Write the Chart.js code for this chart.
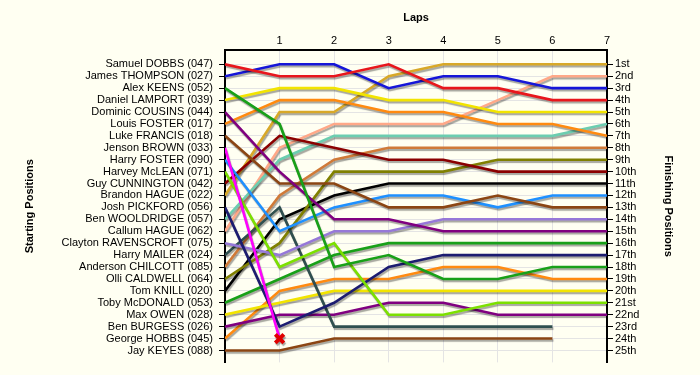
<!DOCTYPE html>
<html><head><meta charset="utf-8">
<script src="https://cdn.jsdelivr.net/npm/chart.js@4"></script>
<style>html,body{margin:0;padding:0;background:#FFFFF2;}#wrap{width:700px;height:375px;}</style>
</head><body><div id="wrap"><canvas id="c" width="700" height="375"></canvas></div>
<script>
const laps = [0, 1, 2, 3, 4, 5, 6, 7];
const lapTickLabels = ['1', '2', '3', '4', '5', '6', '7'];
const startNames = [
  'Samuel DOBBS (047)', 'James THOMPSON (027)', 'Alex KEENS (052)', 'Daniel LAMPORT (039)',
  'Dominic COUSINS (044)', 'Louis FOSTER (017)', 'Luke FRANCIS (018)', 'Jenson BROWN (033)',
  'Harry FOSTER (090)', 'Harvey McLEAN (071)', 'Guy CUNNINGTON (042)', 'Brandon HAGUE (022)',
  'Josh PICKFORD (056)', 'Ben WOOLDRIDGE (057)', 'Callum HAGUE (062)', 'Clayton RAVENSCROFT (075)',
  'Harry MAILER (024)', 'Anderson CHILCOTT (085)', 'Olli CALDWELL (064)', 'Tom KNILL (020)',
  'Toby McDONALD (053)', 'Max OWEN (028)', 'Ben BURGESS (026)', 'George HOBBS (045)', 'Jay KEYES (088)'
];
const finishLabels = ['1st','2nd','3rd','4th','5th','6th','7th','8th','9th','10th','11th','12th','13th',
  '14th','15th','16th','17th','18th','19th','20th','21st','22nd','23rd','24th','25th'];
// position of each car (in starting order) at laps 0..7; null = no longer running
const positions = [
  [1, 2, 2, 1, 3, 3, 4, 4],
  [2, 1, 1, 3, 2, 2, 3, 3],
  [3, 6, 18, 17, 19, 19, 18, 18],
  [4, 3, 3, 4, 4, 5, 5, 5],
  [5, 10, 14, 14, 15, 15, 15, 15],
  [6, 4, 4, 5, 5, 6, 6, 7],
  [7, 11, 11, 13, 13, 12, 13, 13],
  [8, 24, null, null, null, null, null, null],
  [9, 15, 13, 12, 12, 13, 12, 12],
  [10, 18, 16, 22, 22, 21, 21, 21],
  [11, 7, 8, 9, 9, 10, 10, 10],
  [12, 5, 5, 2, 1, 1, 1, 1],
  [13, 23, 21, 18, 17, 17, 17, 17],
  [14, 9, 7, 7, 7, 7, 7, 6],
  [15, 8, 6, 6, 6, 4, 2, 2],
  [16, 17, 15, 15, 14, 14, 14, 14],
  [17, 13, 23, 23, 23, 23, 23, null],
  [18, 12, 9, 8, 8, 8, 8, 8],
  [19, 16, 10, 10, 10, 9, 9, 9],
  [20, 14, 12, 11, 11, 11, 11, 11],
  [21, 19, 17, 16, 16, 16, 16, 16],
  [22, 21, 20, 20, 20, 20, 20, 20],
  [23, 22, 22, 21, 21, 22, 22, 22],
  [24, 20, 19, 19, 18, 18, 19, 19],
  [25, 25, 24, 24, 24, 24, 24, null]
];
const retiredCar = 8;      // starting position of the car marked with an X
const retiredLap = 1;

const lineColors = ['#E8161C','#1616D8','#18A018','#F2E400','#800080','#FF8A10','#8B4513','#FF00FF',
  '#1E90FF','#7CE000','#8B0000','#D8A828','#1C1C70','#6CCDB0','#FFA888','#9678D8','#2F4F4F','#D07A38',
  '#808000','#000000','#18A018','#F2E400','#800080','#FF8A10','#8B4513'];

const datasets = positions.map((row, i) => ({
  label: startNames[i],
  data: row.map((p, k) => ({ x: laps[k], y: p })),
  borderColor: lineColors[i],
  borderWidth: 2.6,
  tension: 0,
  fill: false,
  pointRadius: row.map((p, k) => (i + 1 === retiredCar && k === retiredLap) ? 6 : 0),
  pointStyle: 'crossRot',
  pointBorderColor: '#E00000',
  pointBorderWidth: 4,
  spanGaps: false
}));

const bgPlugin = { id: 'bg', beforeDraw(chart) { const c = chart.ctx; c.save(); c.fillStyle = '#FFFFF2'; c.fillRect(0, 0, chart.width, chart.height); c.restore(); } };
const shadowPlugin = {
  id: 'shadow',
  beforeDatasetDraw(chart) { const c = chart.ctx; c.save(); c.shadowColor = 'rgba(0,0,0,0.35)'; c.shadowOffsetX = 1; c.shadowOffsetY = 2; c.shadowBlur = 1; },
  afterDatasetDraw(chart) { chart.ctx.restore(); }
};

const font = { family: '"Liberation Sans", Arial, sans-serif', size: 11 };
const titleFont = { family: '"Liberation Sans", Arial, sans-serif', size: 11, weight: 'bold' };
const posTicks = s => { s.ticks = finishLabels.map((_, i) => ({ value: i + 1 })); };

new Chart(document.getElementById('c'), {
  type: 'line',
  data: { datasets },
  plugins: [bgPlugin, shadowPlugin],
  options: {
    responsive: false, animation: false,
    layout: { padding: { left: 0, right: 0, top: 0, bottom: 11 } },
    plugins: { legend: { display: false }, tooltip: { enabled: false } },
    scales: {
      x: {
        type: 'linear', position: 'top', min: 0, max: 7,
        afterBuildTicks: s => { s.ticks = laps.map(v => ({ value: v })); },
        afterFit: s => { s.height = 50; },
        ticks: { font, color: '#000', padding: 2, callback: v => v === 0 ? '' : lapTickLabels[v - 1] },
        grid: { color: c => (c.tick && c.tick.value === 0) ? 'rgba(0,0,0,0)' : '#E4E4E4', tickLength: 0 },
        border: { color: '#000', width: 2 },
        title: { display: true, text: 'Laps', font: titleFont, color: '#000', padding: { top: 11, bottom: 0 } }
      },
      y: {
        type: 'linear', position: 'left', reverse: true, min: -0.2, max: 26,
        afterBuildTicks: posTicks,
        afterFit: s => { s.width = 225; },
        ticks: { font, color: '#000', padding: 6, autoSkip: false, callback: v => startNames[v - 1] },
        grid: { color: '#E4E4E4', tickColor: '#000', tickLength: 6 },
        border: { color: '#000', width: 2 },
        title: { display: true, text: 'Starting Positions', font: titleFont, color: '#000', padding: { top: 23, bottom: 0 } }
      },
      y2: {
        type: 'linear', position: 'right', reverse: true, min: -0.2, max: 26,
        afterBuildTicks: posTicks,
        afterFit: s => { s.width = 93; },
        ticks: { font, color: '#000', padding: 2, autoSkip: false, callback: v => finishLabels[v - 1] },
        grid: { drawOnChartArea: false, tickColor: '#000', tickLength: 6 },
        border: { color: '#000', width: 2 },
        title: { display: true, text: 'Finishing Positions', font: titleFont, color: '#000', padding: { top: 25, bottom: 0 } }
      }
    }
  }
});
</script></body></html>
